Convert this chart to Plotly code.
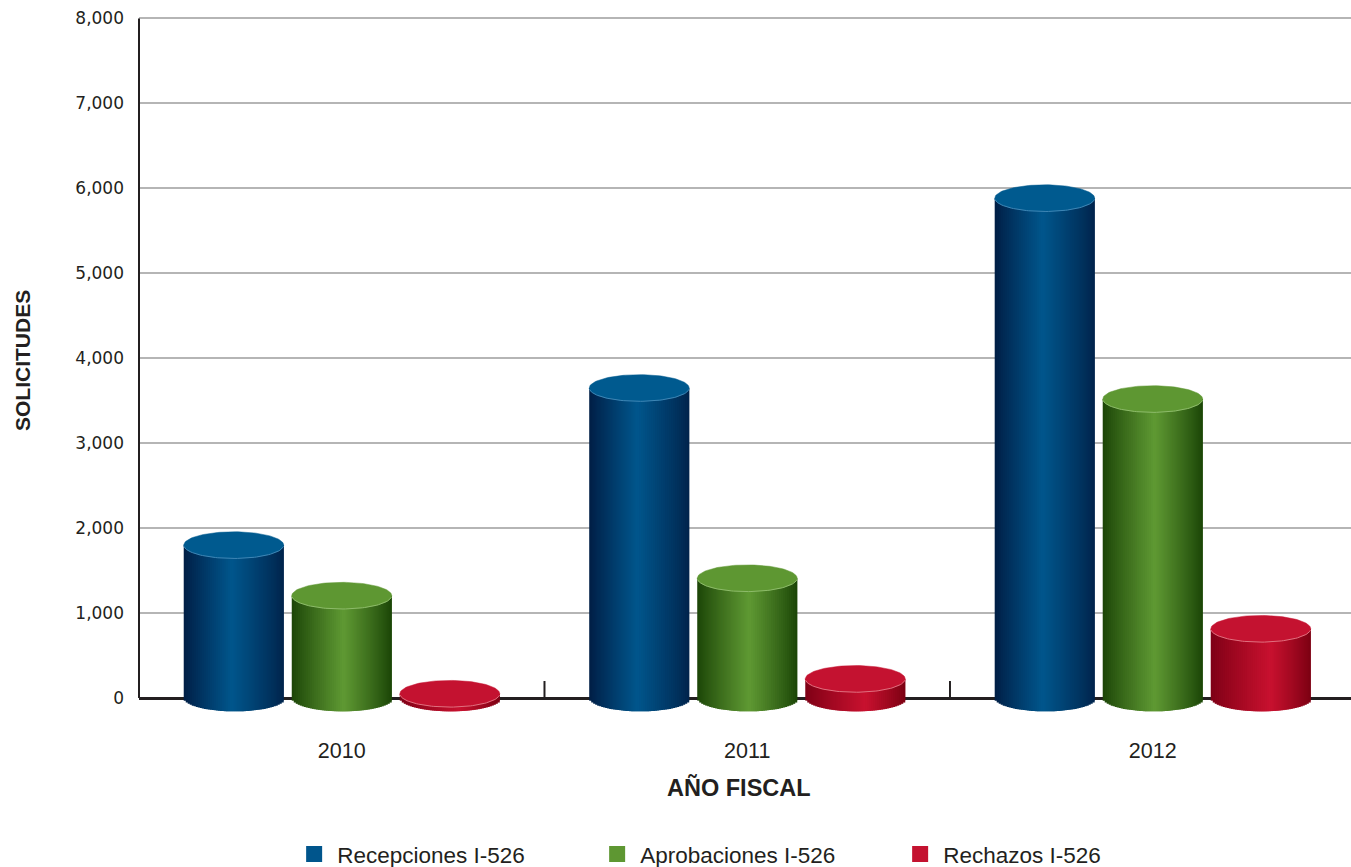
import numpy as np
import plotly.graph_objects as go

# ---- data ----
years = ["2010", "2011", "2012"]
recepciones = [1800, 3650, 5885]
aprobaciones = [1205, 1410, 3520]
rechazos = [50, 225, 815]
series_names = ["Recepciones I-526", "Aprobaciones I-526", "Rechazos I-526"]
y_ticks = [0, 1000, 2000, 3000, 4000, 5000, 6000, 7000, 8000]

# ---- styles ----
styles = [
    dict(left="#001d44", peak="#00568c", right="#00234b", top="#005a8f", rim="#3f86b5", p=0.48, legend="#00558c"),
    dict(left="#1b4407", peak="#5f9933", right="#1a4406", top="#5e9732", rim="#8dbb6a", p=0.52, legend="#5e9732"),
    dict(left="#7d0015", peak="#c8112f", right="#7a0012", top="#c41230", rim="#e0707f", p=0.60, legend="#c41230"),
]
values_list = [recepciones, aprobaciones, rechazos]
x_pos = np.arange(len(years))
offsets = [-0.2664, 0.0, 0.2664]
W = 0.2466          # bar width in category units
B = 157.0           # half-height of the ellipse (data units)
N = 50              # strips per cylinder


def hex2rgb(h):
    h = h.lstrip("#")
    return np.array([int(h[i:i + 2], 16) for i in (0, 2, 4)], dtype=float)


def mix(a, b, t):
    c = a + (b - a) * t
    return "rgb(%d,%d,%d)" % tuple(np.clip(np.round(c), 0, 255))


fig = go.Figure()

for s, (vals, st) in enumerate(zip(values_list, styles)):
    vals = np.array(vals, dtype=float)
    cl, cp, cr = hex2rgb(st["left"]), hex2rgb(st["peak"]), hex2rgb(st["right"])
    step = W / N
    for i in range(N):
        u = (i + 0.5) / N
        if u < st["p"]:
            t = u / st["p"]
            col = mix(cl, cp, t ** 0.9)
        else:
            t = (1 - u) / (1 - st["p"])
            col = mix(cr, cp, t ** 0.9)
        base = -B * np.sqrt(max(0.0, 1 - (2 * u - 1) ** 2))
        wid = step * (2.0 if i < N - 1 else 1.0)
        fig.add_trace(go.Bar(
            x=x_pos, y=vals - base, base=[base] * len(vals),
            offset=offsets[s] - W / 2 + i * step, width=wid,
            marker=dict(color=col, line=dict(width=0)),
            showlegend=False, hoverinfo="skip",
        ))
    # top ellipse
    th = np.linspace(0, 2 * np.pi, 120)
    ex, ey = [], []
    for xi, v in zip(x_pos, vals):
        ex += list(xi + offsets[s] + (W / 2) * np.cos(th)) + [None]
        ey += list(v + B * np.sin(th)) + [None]
    fig.add_trace(go.Scatter(
        x=ex, y=ey, mode="lines", fill="toself", fillcolor=st["top"],
        line=dict(color=st["top"], width=0.5), showlegend=False, hoverinfo="skip",
    ))
    # light rim on front edge
    fx, fy = [], []
    th2 = np.linspace(np.pi * 1.03, np.pi * 1.97, 60)
    for xi, v in zip(x_pos, vals):
        fx += list(xi + offsets[s] + (W / 2) * np.cos(th2)) + [None]
        fy += list(v + B * np.sin(th2)) + [None]
    fig.add_trace(go.Scatter(
        x=fx, y=fy, mode="lines", line=dict(color=st["rim"], width=1),
        showlegend=False, hoverinfo="skip",
    ))
    # legend entry
    fig.add_trace(go.Scatter(
        x=[None], y=[None], mode="markers", name=series_names[s],
        marker=dict(symbol="square", size=16, color=st["legend"]),
    ))

axis_color = "#231f20"
shapes = [
    dict(type="line", xref="paper", yref="y", x0=0, x1=0, y0=0, y1=8000,
         line=dict(color=axis_color, width=2), layer="above"),
]
for xb in [0.5, 1.5]:
    shapes.append(dict(type="line", xref="x", yref="y", x0=xb, x1=xb, y0=0, y1=200,
                       line=dict(color=axis_color, width=2), layer="below"))

fig.update_layout(
    width=1351, height=867,
    margin=dict(l=139, r=0, t=10, b=152),
    plot_bgcolor="white", paper_bgcolor="white",
    barmode="overlay",
    showlegend=True,
    font=dict(family="Liberation Sans, Arial, sans-serif", color=axis_color),
    xaxis=dict(
        range=[-0.5, 2.489], tickvals=list(x_pos), ticktext=years,
        showgrid=False, zeroline=False, showline=False, ticks="",
        tickfont=dict(family="Liberation Sans, Arial, sans-serif", size=21.5, color=axis_color),
        ticklabelstandoff=20,
    ),
    yaxis=dict(
        range=[-200, 8100], tickvals=y_ticks, tickformat=",",
        showgrid=True, gridcolor="#b5b5b5", gridwidth=1.5,
        zeroline=True, zerolinecolor=axis_color, zerolinewidth=2.5,
        showline=False, ticks="",
        tickfont=dict(family="DejaVu Sans, sans-serif", size=17, color=axis_color),
        ticklabelstandoff=14,
    ),
    legend=dict(
        orientation="h", xref="container", yref="container",
        x=0.2155, y=0.0145, xanchor="left", yanchor="middle",
        font=dict(family="Liberation Sans, Arial, sans-serif", size=22.5, color=axis_color),
        entrywidth=252, entrywidthmode="pixels", itemsizing="trace", itemwidth=36,
        bgcolor="rgba(0,0,0,0)",
    ),
    shapes=shapes,
    annotations=[
        dict(text="<b>SOLICITUDES</b>", xref="paper", yref="paper",
             x=(22 - 139) / 1212, y=(715 - 361) / 705, textangle=-90,
             showarrow=False, xanchor="center", yanchor="middle",
             font=dict(family="Liberation Sans, Arial, sans-serif", size=21, color=axis_color)),
        dict(text="<b>AÑO FISCAL</b>", xref="paper", yref="paper",
             x=(739 - 139) / 1212, y=(715 - 787) / 705,
             showarrow=False, xanchor="center", yanchor="middle",
             font=dict(family="Liberation Sans, Arial, sans-serif", size=23.5, color=axis_color)),
    ],
)

fig.write_html("out.html")
